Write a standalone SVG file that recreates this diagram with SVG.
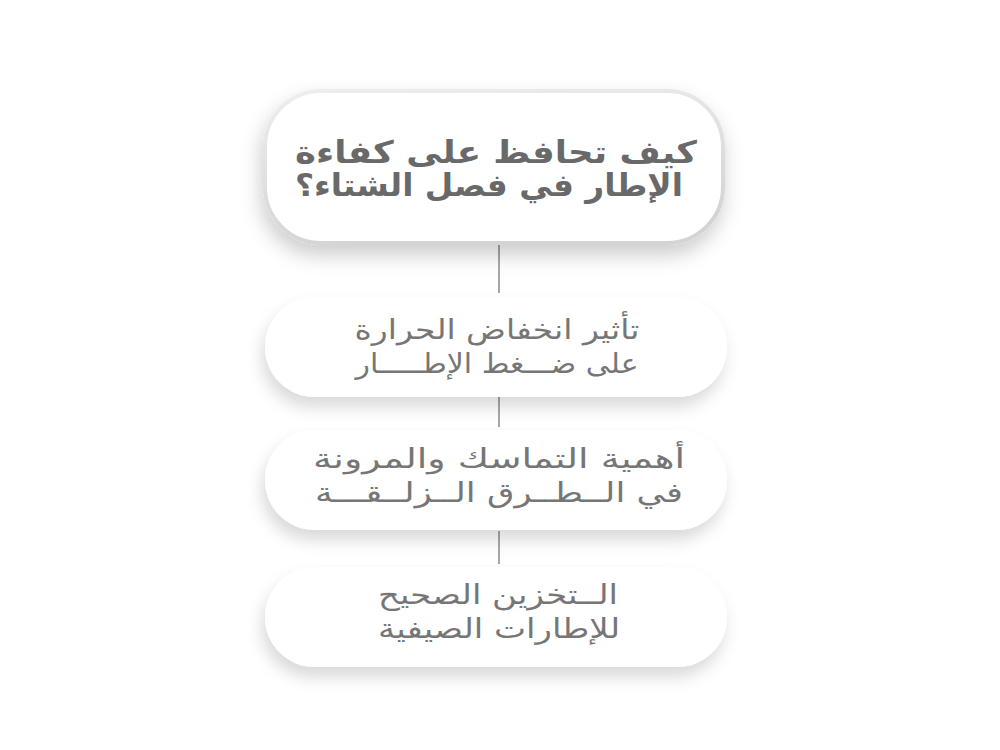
<svg xmlns="http://www.w3.org/2000/svg" width="1000" height="750" viewBox="0 0 1000 750">
<style>
.box{fill:#ffffff;}
.t{font-family:"DejaVu Sans",sans-serif;text-anchor:middle;direction:rtl;}
.title{font-size:31px;font-weight:bold;fill:#696969;}
.item{font-size:27px;font-weight:normal;fill:#767676;}
.conn{stroke:#8a8a8a;stroke-width:1.5;fill:none;}
</style>
<defs>
<filter id="sh" x="-20%" y="-40%" width="140%" height="190%">
<feDropShadow dx="-3" dy="10" stdDeviation="8" flood-color="#000" flood-opacity="0.15"/>
</filter>
<filter id="shT" x="-20%" y="-40%" width="140%" height="190%">
<feDropShadow dx="-2" dy="10" stdDeviation="10" flood-color="#000" flood-opacity="0.2"/>
</filter>
<linearGradient id="rim" x1="0" y1="0" x2="0.3" y2="1">
<stop offset="0" stop-color="#eeeeee"/>
<stop offset="1" stop-color="#d4d4d4"/>
</linearGradient>
</defs>
<rect width="1000" height="750" fill="#ffffff"/>
<g id="connectors">
<line class="conn" x1="499" y1="243" x2="499" y2="293"/>
<line class="conn" x1="499" y1="397" x2="499" y2="427"/>
<line class="conn" x1="499" y1="531" x2="499" y2="564"/>
</g>
<g id="node-title">
<rect class="box" x="265" y="91" width="458" height="152" rx="56" filter="url(#shT)" stroke="url(#rim)" stroke-width="4"/>
<text class="t title" x="496" y="163" textLength="402" lengthAdjust="spacingAndGlyphs">كيف تحافظ على كفاءة</text>
<text class="t title" x="489" y="196" textLength="388" lengthAdjust="spacingAndGlyphs">الإطار في فصل الشتاء؟</text>
</g>
<g id="node-1">
<rect class="box" x="265" y="297" width="462" height="100" rx="50" filter="url(#sh)"/>
<text class="t item" x="497" y="339" textLength="285" lengthAdjust="spacingAndGlyphs">تأثير انخفاض الحرارة</text>
<text class="t item" x="497" y="373" textLength="283" lengthAdjust="spacingAndGlyphs">على ضـــغط الإطـــــار</text>
</g>
<g id="node-2">
<rect class="box" x="265" y="430" width="462" height="100" rx="50" filter="url(#sh)"/>
<text class="t item" x="499" y="468" textLength="372" lengthAdjust="spacingAndGlyphs">أهمية التماسك والمرونة</text>
<text class="t item" x="499" y="502" textLength="368" lengthAdjust="spacingAndGlyphs">في الــطــرق الــزلــقـــة</text>
</g>
<g id="node-3">
<rect class="box" x="265" y="567" width="462" height="100" rx="50" filter="url(#sh)"/>
<text class="t item" x="498" y="604" textLength="240" lengthAdjust="spacingAndGlyphs">الــتخزين الصحيح</text>
<text class="t item" x="499" y="638" textLength="242" lengthAdjust="spacingAndGlyphs">للإطارات الصيفية</text>
</g>
</svg>
